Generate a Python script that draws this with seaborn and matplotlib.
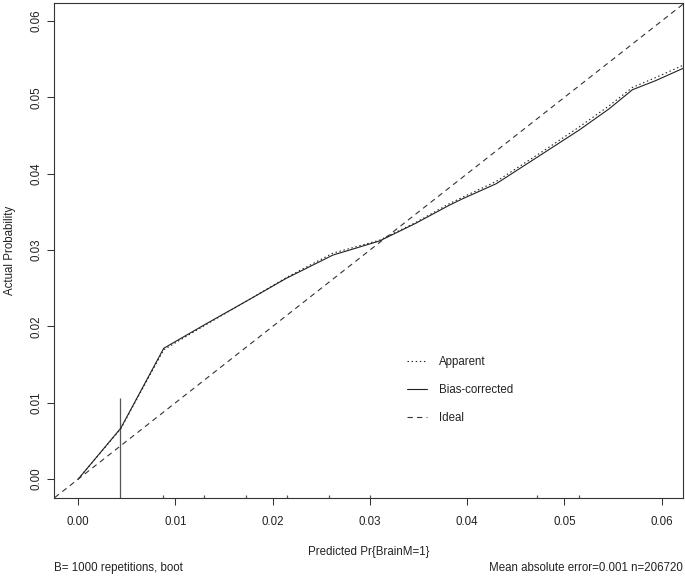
import numpy as np
import pandas as pd
import matplotlib
matplotlib.use("Agg")
import matplotlib.pyplot as plt
from matplotlib import font_manager
import seaborn as sns

# ---------------- data ----------------
pred_x = [0.0000, 0.00438, 0.0088, 0.0131, 0.0177, 0.0214, 0.0262, 0.0279, 0.0310,
          0.0347, 0.0382, 0.0395, 0.0430, 0.0481, 0.0515, 0.0546, 0.0570, 0.0594, 0.0622]
bias_corrected = [0.0000, 0.00667, 0.01714, 0.0203, 0.0236, 0.0263, 0.02935, 0.0300, 0.0312,
                  0.0335, 0.0359, 0.0367, 0.0387, 0.0429, 0.0457, 0.0485, 0.0510, 0.0522, 0.0538]
apparent = [0.0000, 0.00660, 0.01695, 0.0202, 0.0236, 0.0264, 0.0296, 0.0302, 0.0313,
            0.0336, 0.0361, 0.0369, 0.0390, 0.0432, 0.0461, 0.0489, 0.0513, 0.0526, 0.0542]

# spike histogram of predicted risks (relative frequencies)
spike_x = [0.00435, 0.0087, 0.01295, 0.01726, 0.0215, 0.02581, 0.03005, 0.04716, 0.05147]
spike_freq = [1.0, 0.03, 0.03, 0.03, 0.03, 0.03, 0.03, 0.03, 0.03]

x_ticks = [0.00, 0.01, 0.02, 0.03, 0.04, 0.05, 0.06]
y_ticks = [0.00, 0.01, 0.02, 0.03, 0.04, 0.05, 0.06]
x_label = "Predicted Pr{BrainM=1}"
y_label = "Actual Probability"
legend_labels = ["Apparent", "Bias-corrected", "Ideal"]
note_left = "B= 1000 repetitions, boot"
note_right = "Mean absolute error=0.001 n=206720"

# ---------------- style ----------------
sns.set_style("white")
names = {f.name for f in font_manager.fontManager.ttflist}
fam = "Liberation Sans Narrow" if "Liberation Sans Narrow" in names else "Liberation Sans"
plt.rcParams["font.family"] = [fam, "DejaVu Sans"]
FS = 9 if fam == "Liberation Sans Narrow" else 8.3
TXT = "#222222"

df_bc = pd.DataFrame({"x": pred_x, "y": bias_corrected})
df_ap = pd.DataFrame({"x": pred_x, "y": apparent})

W, H = 685, 577
fig = plt.figure(figsize=(W / 100, H / 100), dpi=100)
L, R, T, B = 54.3, 683.0, 2.7, 497.5
ax = fig.add_axes([L / W, 1 - B / H, (R - L) / W, (B - T) / H])

xlim = (-0.00245, 0.0622)
ylim = (-0.0024, 0.0624)

# spikes (risk distribution)
spike_scale = 0.0130
ax.vlines(spike_x, ylim[0], [ylim[0] + f * spike_scale for f in spike_freq],
          color="#555555", lw=0.9, zorder=2)

# curves
sns.lineplot(data=df_ap, x="x", y="y", ax=ax, color="#222222", lw=0.8,
             estimator=None, label=legend_labels[0])
ax.lines[-1].set_dashes((1.3, 2.4))
sns.lineplot(data=df_bc, x="x", y="y", ax=ax, color="#222222", lw=0.8,
             estimator=None, label=legend_labels[1])
ideal = ax.axline((0, 0), slope=1, color="#333333", lw=0.8, label=legend_labels[2])
ideal.set_dashes((4.8, 3.8))

ax.set_xlim(*xlim)
ax.set_ylim(*ylim)
ax.set_xticks(x_ticks)
ax.set_yticks(y_ticks)
ax.set_xticklabels([f"{v:.2f}" for v in x_ticks])
ax.set_yticklabels([f"{v:.2f}" for v in y_ticks])

for s in ax.spines.values():
    s.set_color("#333333")
    s.set_linewidth(0.8)
    s.set_visible(True)

ax.tick_params(axis="both", which="major", direction="out", length=5, width=0.75,
               color="#333333", labelsize=FS, labelcolor=TXT, bottom=True, left=True)
ax.tick_params(axis="x", pad=8.5)
ax.tick_params(axis="y", pad=3.5)
for lab in ax.get_yticklabels():
    lab.set_rotation(90)
    lab.set_va("center")

ax.set_xlabel(x_label, fontsize=FS, color=TXT)
ax.set_ylabel(y_label, fontsize=FS, color=TXT)
ax.xaxis.set_label_coords(0.5, (B - 552) / (B - T))
ax.xaxis.label.set_va("center")
ax.yaxis.set_label_coords((10 - L) / (R - L), 0.5)
ax.yaxis.label.set_va("center")

yn = (B - 568) / (B - T)
ax.text(0.0, yn, note_left, transform=ax.transAxes, ha="left", va="center",
        fontsize=FS, color=TXT)
ax.text(1.0, yn, note_right, transform=ax.transAxes, ha="right", va="center",
        fontsize=FS, color=TXT)

leg = ax.legend(loc="upper left",
                bbox_to_anchor=((407 - L) / (R - L), (B - 356) / (B - T)),
                frameon=False, fontsize=FS, handlelength=1.75, handletextpad=1.0,
                labelspacing=1.38, borderpad=0, borderaxespad=0)
for t in leg.get_texts():
    t.set_color(TXT)

fig.savefig("out.png", dpi=100)
